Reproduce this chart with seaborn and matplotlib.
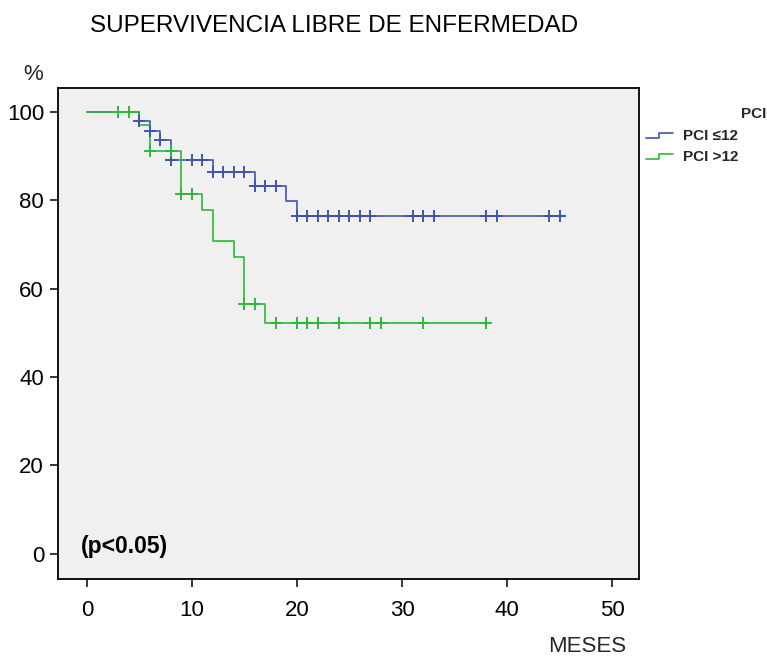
import numpy as np
import pandas as pd
import matplotlib
matplotlib.use("Agg")
import matplotlib.pyplot as plt
import seaborn as sns
from matplotlib.lines import Line2D
from matplotlib.legend_handler import HandlerBase

# ---------------- data ----------------
groups = ["PCI \u226412", "PCI >12"]

blue_event_times = [0, 5, 6, 7, 8, 12, 16, 19, 20]
blue_survival = [100, 98.0, 95.8, 93.6, 89.1, 86.5, 83.3, 79.9, 76.5]
blue_end = 45
blue_censored = [5, 6, 7, 8, 10, 11, 12, 13, 14, 15, 16, 17, 18, 20, 21, 22,
                 23, 24, 25, 26, 27, 31, 32, 33, 38, 39, 44, 45]

green_event_times = [0, 5, 6, 9, 11, 12, 14, 15, 17]
green_survival = [100, 97.1, 91.2, 81.4, 77.8, 70.8, 67.2, 56.5, 52.3]
green_end = 38
green_censored = [3, 4, 6, 8, 9, 10, 15, 16, 18, 20, 21, 22, 24, 27, 28, 32, 38]

x_ticks = [0, 10, 20, 30, 40, 50]
y_ticks = [0, 20, 40, 60, 80, 100]

colors = {groups[0]: "#3D55AE", groups[1]: "#2DB83B"}

# ---------------- build tables ----------------
def curve_frame(name, times, surv, end):
    t = list(times) + [end]
    s = list(surv) + [surv[-1]]
    return pd.DataFrame({"t": t, "s": s, "grupo": name})

def censor_frame(name, times, surv, ctimes):
    idx = np.searchsorted(np.asarray(times), np.asarray(ctimes), side="right") - 1
    return pd.DataFrame({"t": ctimes, "s": np.asarray(surv)[idx], "grupo": name})

curves = pd.concat([
    curve_frame(groups[0], blue_event_times, blue_survival, blue_end),
    curve_frame(groups[1], green_event_times, green_survival, green_end),
], ignore_index=True)
censors = pd.concat([
    censor_frame(groups[0], blue_event_times, blue_survival, blue_censored),
    censor_frame(groups[1], green_event_times, green_survival, green_censored),
], ignore_index=True)

# ---------------- style ----------------
sns.set_theme(style="white")
plt.rcParams["font.family"] = ["Liberation Sans", "DejaVu Sans"]

W, H = 767, 659
fig = plt.figure(figsize=(W / 100, H / 100), dpi=100)
fig.patch.set_facecolor("white")
L, R, T, B = 58, 639, 88, 579
ax = fig.add_axes([L / W, 1 - B / H, (R - L) / W, (B - T) / H])
ax.set_facecolor("#F0F0F0")

sns.lineplot(data=curves, x="t", y="s", hue="grupo", palette=colors,
             drawstyle="steps-post", estimator=None, sort=False,
             linewidth=1.2, legend=False, ax=ax)
sns.scatterplot(data=censors, x="t", y="s", hue="grupo", palette=colors,
                marker="+", s=75, linewidth=1.4, legend=False, ax=ax, zorder=3)

ax.set_xlim(-2.76, 52.57)
ax.set_ylim(-5.73, 105.43)
ax.set_xticks(x_ticks)
ax.set_yticks(y_ticks)
ax.set_xlabel("")
ax.set_ylabel("")
ax.tick_params(axis="both", direction="out", length=6, width=1.1,
               color="black", labelsize=16, labelcolor="black", pad=4,
               bottom=True, left=True)
ax.tick_params(axis="x", pad=9)
for sp in ax.spines.values():
    sp.set_visible(True)
    sp.set_color("black")
    sp.set_linewidth(1.3)

ax.text(-0.55, 1.6, "(p<0.05)", fontsize=16.5, fontweight="bold",
        ha="left", va="center", color="black")

# texts
fig.text(334 / W, 1 - 26 / H, "SUPERVIVENCIA LIBRE DE ENFERMEDAD",
         ha="center", va="center", fontsize=17.5, color="black")
fig.text(33 / W, 1 - 75 / H, "%", ha="center", va="center", fontsize=16)
fig.text(587 / W, 1 - 646 / H, "MESES", ha="center", va="center", fontsize=16)

# legend
class StepHandler(HandlerBase):
    def create_artists(self, legend, orig_handle, xdescent, ydescent,
                       width, height, fontsize, trans):
        x0 = -xdescent
        x1 = x0 + width
        xm = x0 + width * 0.5
        ylo = -ydescent + height * 0.2
        yhi = -ydescent + height * 0.65
        ln = Line2D([x0, xm, xm, x1], [ylo, ylo, yhi, yhi],
                    color=orig_handle.get_color(), lw=1.2)
        ln.set_transform(trans)
        return [ln]

handles = [Line2D([], [], color=colors[g]) for g in groups]
fig.text(766 / W, 1 - 114 / H, "PCI", ha="right", va="center",
         fontsize=11, fontweight="bold")
leg = fig.legend(handles, groups, loc="upper left",
                 bbox_to_anchor=(646 / W, 1 - 129 / H),
                 frameon=False, borderpad=0, borderaxespad=0,
                 handlelength=1.75, handletextpad=0.65, labelspacing=0.45,
                 prop={"weight": "bold", "size": 11},
                 handler_map={Line2D: StepHandler()})

fig.savefig("out.png", dpi=100)
